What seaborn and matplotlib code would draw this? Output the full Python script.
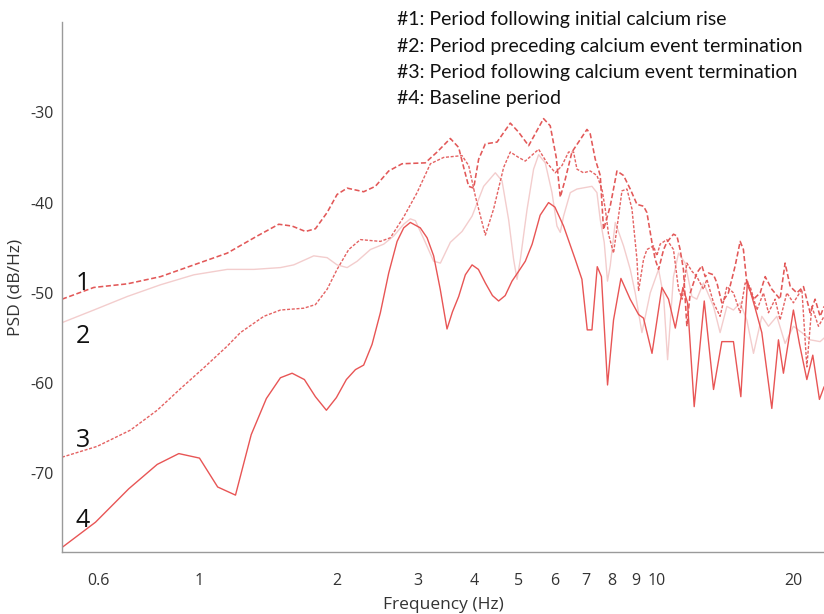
import numpy as np
import pandas as pd
import matplotlib
matplotlib.use("Agg")
import matplotlib.pyplot as plt
import seaborn as sns

# --- data (frequency in Hz, PSD in dB/Hz) ---
f1 = [0.50, 0.587, 0.695, 0.822, 0.972, 1.150, 1.338, 1.491, 1.595, 1.706, 1.794, 1.903, 2.001, 2.105,
      2.288, 2.427, 2.596, 2.777, 3.122, 3.313, 3.542, 3.694, 3.788, 3.885, 3.984, 4.085, 4.225, 4.482,
      4.792, 4.997, 5.256, 5.667, 5.861, 6.041, 6.165, 6.323, 6.539, 7.053, 7.171, 7.354, 7.542, 7.668,
      7.930, 8.204, 8.481, 8.773, 9.075, 9.380, 9.541, 9.786, 9.95, 10.12, 10.38, 10.55, 10.91, 11.10,
      11.28, 11.47, 11.67, 11.87, 12.27, 12.59, 12.80, 13.02, 13.35, 13.58, 13.92, 14.39, 14.89, 15.27,
      15.52, 15.79, 16.33, 16.89, 17.32, 17.91, 18.67, 19.15, 19.65, 20.32, 21.01, 21.73, 22.28, 22.85, 23.31]
psd1 = [-50.7, -49.4, -49.0, -48.2, -46.9, -45.6, -43.7, -42.4, -42.6, -43.2, -42.9, -41.1, -39.1, -38.4,
        -38.8, -38.2, -36.5, -35.7, -35.6, -34.4, -32.9, -33.9, -36.1, -38.2, -38.4, -35.2, -33.5, -33.3,
        -31.2, -32.2, -33.7, -30.7, -31.5, -35.0, -39.4, -37.4, -34.4, -31.9, -32.4, -35.2, -37.0, -43.0,
        -40.4, -36.5, -37.0, -38.5, -40.2, -40.4, -41.1, -44.4, -46.3, -47.4, -45.2, -44.4, -43.5, -43.7,
        -45.2, -47.4, -53.7, -50.0, -47.8, -47.0, -48.2, -47.8, -48.0, -48.9, -51.1, -50.0, -47.0, -44.3,
        -45.2, -48.9, -50.7, -50.0, -48.2, -49.6, -50.7, -46.7, -49.3, -50.0, -49.3, -52.2, -50.7, -52.6, -51.5]

f2 = [0.50, 0.587, 0.695, 0.822, 0.972, 1.150, 1.315, 1.504, 1.608, 1.779, 1.903, 2.001, 2.105, 2.214,
      2.367, 2.532, 2.662, 2.799, 2.895, 2.969, 3.122, 3.256, 3.369, 3.542, 3.757, 3.952, 4.189, 4.443,
      4.596, 4.752, 4.873, 4.958, 5.041, 5.213, 5.389, 5.528, 5.716, 5.913, 6.063, 6.165, 6.268, 6.484,
      6.706, 7.232, 7.417, 7.542, 7.694, 7.822, 7.930, 8.134, 8.481, 8.773, 8.995, 9.305, 9.703, 10.12,
      10.38, 10.59, 10.91, 11.19, 11.57, 11.97, 12.27, 12.69, 13.35, 13.80, 14.28, 14.76, 15.27, 15.79,
      16.33, 17.03, 17.61, 18.37, 19.15, 19.97, 20.84, 21.73, 22.85, 23.31]
psd2 = [-53.3, -51.9, -50.4, -49.1, -48.0, -47.4, -47.4, -47.2, -46.9, -45.9, -46.1, -46.9, -47.2, -46.5,
        -45.2, -44.6, -43.7, -42.4, -41.8, -42.0, -44.4, -46.5, -46.7, -44.4, -43.2, -41.5, -38.2, -36.7,
        -37.6, -41.9, -46.3, -48.5, -46.3, -40.8, -36.3, -34.7, -35.6, -38.9, -42.6, -43.3, -41.5, -38.9,
        -38.5, -38.2, -38.9, -41.9, -44.4, -48.7, -47.0, -42.2, -44.8, -47.4, -50.0, -54.4, -50.0, -47.4,
        -50.4, -57.4, -48.2, -45.6, -46.7, -50.4, -50.7, -48.9, -51.5, -54.4, -51.5, -51.9, -51.1, -53.0,
        -56.7, -52.6, -53.7, -52.6, -55.6, -53.7, -54.4, -55.2, -55.4, -55.0]

f3 = [0.50, 0.597, 0.706, 0.808, 0.909, 1.022, 1.150, 1.229, 1.383, 1.504, 1.691, 1.794, 1.903, 2.001,
      2.122, 2.250, 2.489, 2.617, 2.799, 2.995, 3.203, 3.424, 3.757, 3.885, 4.018, 4.225, 4.406, 4.634,
      4.792, 4.997, 5.168, 5.528, 5.766, 6.012, 6.218, 6.428, 6.592, 6.706, 6.932, 7.171, 7.417, 7.606,
      7.734, 7.863, 8.064, 8.414, 8.628, 8.849, 9.075, 9.148, 9.380, 9.541, 9.865, 10.03, 10.20, 10.55,
      10.91, 11.19, 11.40, 11.67, 11.97, 12.27, 12.69, 12.91, 13.35, 13.80, 14.28, 14.76, 15.27, 15.66,
      16.06, 16.61, 17.17, 17.61, 18.21, 18.67, 19.32, 19.97, 20.84, 21.37, 21.91, 22.66, 23.31]
psd3 = [-68.2, -67.0, -65.2, -63.0, -60.6, -58.3, -55.9, -54.4, -52.6, -51.9, -51.7, -51.3, -49.6, -47.4,
        -45.2, -44.1, -44.3, -43.9, -41.6, -38.9, -35.7, -35.0, -34.8, -35.9, -39.3, -43.6, -40.7, -36.1,
        -34.4, -35.0, -35.4, -34.1, -35.6, -36.7, -35.9, -34.4, -34.4, -36.3, -36.7, -36.5, -37.0, -38.5,
        -40.7, -43.5, -45.6, -38.7, -38.5, -40.7, -46.3, -49.8, -46.3, -45.2, -44.8, -45.9, -44.6, -44.1,
        -45.2, -49.6, -50.7, -46.7, -47.6, -48.2, -49.6, -48.5, -51.1, -52.6, -49.3, -50.0, -52.2, -48.9,
        -49.3, -51.9, -50.0, -52.2, -50.7, -53.0, -50.0, -51.1, -49.6, -58.2, -51.5, -53.7, -52.6]

f4 = [0.50, 0.592, 0.700, 0.808, 0.901, 1.00, 1.096, 1.199, 1.298, 1.401, 1.504, 1.595, 1.697, 1.794,
      1.896, 1.994, 2.097, 2.195, 2.288, 2.387, 2.489, 2.596, 2.708, 2.80, 2.895, 3.044, 3.15, 3.256,
      3.366, 3.483, 3.58, 3.694, 3.82, 3.952, 4.08, 4.225, 4.38, 4.518, 4.67, 4.833, 5.0, 5.168, 5.35,
      5.57, 5.811, 6.0, 6.268, 6.649, 6.876, 7.063, 7.232, 7.428, 7.587, 7.824, 8.064, 8.37, 8.77, 9.15,
      9.38, 9.79, 10.29, 10.64, 11.01, 11.44, 11.71, 12.11, 12.74, 13.35, 13.92, 14.76, 15.32, 15.84,
      16.47, 17.03, 17.91, 18.52, 18.99, 19.97, 20.58, 21.37, 22.02, 22.77, 23.31]
psd4 = [-78.2, -75.4, -71.7, -69.0, -67.8, -68.3, -71.5, -72.4, -65.7, -61.7, -59.4, -58.9, -59.6, -61.5,
        -63.0, -61.6, -59.6, -58.5, -58.0, -55.7, -52.2, -47.8, -44.3, -42.8, -42.2, -42.8, -43.9, -45.9,
        -49.6, -54.0, -52.1, -50.4, -48.0, -46.9, -47.4, -48.9, -50.3, -50.9, -50.3, -48.7, -47.6, -46.5,
        -44.6, -41.4, -40.0, -40.5, -42.6, -46.3, -48.5, -54.1, -54.1, -47.1, -48.2, -60.2, -53.0, -48.4,
        -50.7, -52.4, -52.8, -56.7, -49.4, -50.7, -53.9, -49.4, -51.1, -62.6, -50.9, -60.7, -55.4, -55.4,
        -61.5, -48.7, -51.7, -54.4, -62.8, -55.2, -58.9, -51.9, -55.6, -59.6, -56.9, -61.8, -60.4]

legend_lines = ["#1: Period following initial calcium rise",
                "#2: Period preceding calcium event termination",
                "#3: Period following calcium event termination",
                "#4: Baseline period"]
curve_labels = ["1", "2", "3", "4"]
label_db = [-49.0, -54.8, -66.4, -75.2]

yticks = [-70, -60, -50, -40, -30]
xticks_major = [1, 10]
xticks_minor = [0.6, 0.7, 0.8, 0.9, 2, 3, 4, 5, 6, 7, 8, 9, 20]
xlabels_minor = ["0.6", "", "", "", "2", "3", "4", "5", "6", "7", "8", "9", "20"]

sns.set_style("white")
plt.rcParams['font.family'] = ['Open Sans', 'DejaVu Sans']

fig = plt.figure(figsize=(8.24, 6.14), dpi=100)
ax = fig.add_axes([62 / 824, 1 - 552 / 614, 1 - 62 / 824, 530 / 614])

styles = [
    (f2, psd2, "#f3cdcd", "-", 1.0),
    (f3, psd3, "#e46262", (0, (2.2, 1.2)), 1.0),
    (f1, psd1, "#e25858", (0, (3.2, 1.6)), 1.15),
    (f4, psd4, "#e85555", "-", 1.0),
]
for fx, py, col, ls, lw in styles:
    sns.lineplot(x=fx, y=py, ax=ax, color=col, linestyle=ls, linewidth=lw,
                 estimator=None, sort=False)

ax.set_xscale("log")
ax.set_xlim(0.5, 23.3)
ax.set_ylim(-78.7, -20)

ax.set_yticks(yticks)
ax.set_yticklabels([str(v) for v in yticks])
ax.set_xticks(xticks_major)
ax.set_xticklabels(["1", "10"])
ax.set_xticks(xticks_minor, minor=True)
ax.set_xticklabels(xlabels_minor, minor=True)

for side in ["top", "right"]:
    ax.spines[side].set_visible(False)
for side in ["left", "bottom"]:
    ax.spines[side].set_color("#9a9a9a")
    ax.spines[side].set_linewidth(1.0)

ax.tick_params(axis="both", which="both", direction="in", colors="#9a9a9a",
               labelcolor="#333333", labelsize=11.5)
ax.tick_params(axis="x", which="major", length=9, pad=15)
ax.tick_params(axis="x", which="minor", length=5, pad=15)
ax.tick_params(axis="y", which="major", length=7, pad=6)

ax.set_xlabel("Frequency (Hz)", fontsize=12.5, color="#333333", labelpad=6)
ax.set_ylabel("PSD (dB/Hz)", fontsize=12.5, color="#333333", labelpad=5)

for i, line in enumerate(legend_lines):
    fig.text(397 / 824, 1 - (20 + 26.3 * i) / 614, line, fontsize=14,
             family=["Lato", "DejaVu Sans"], color="#111111", va="center", ha="left")

for lab, yv in zip(curve_labels, label_db):
    ax.text(0.555, yv, lab, fontsize=18, color="#111111", ha="center", va="center",
            family=["Open Sans", "DejaVu Sans"])

fig.savefig("out.png", dpi=100, facecolor="white")
